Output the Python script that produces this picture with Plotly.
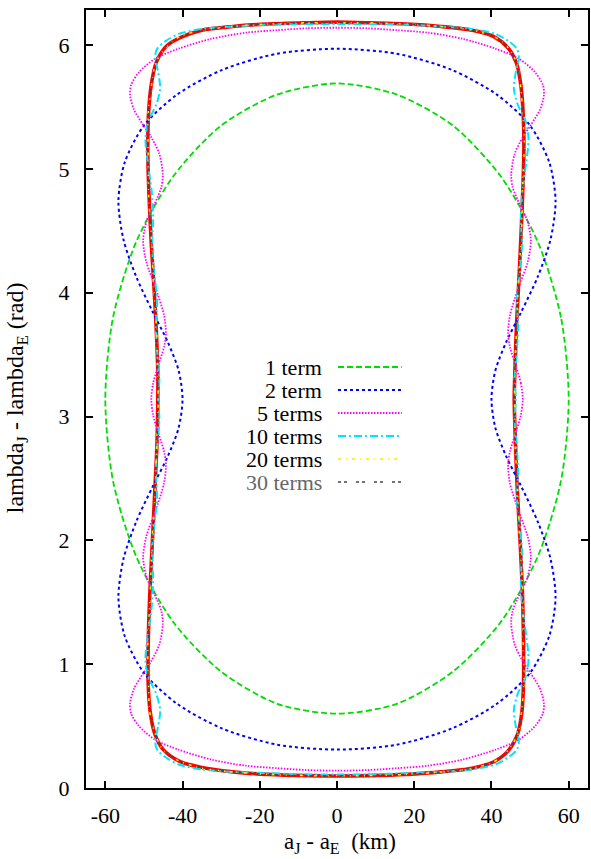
import plotly.graph_objects as go

# ---- data (x: a_J - a_E in km, y: lambda_J - lambda_E in rad) ----
pts_orbit = [(45.9,3.14),(46.1,3.40),(46.5,3.75),(47.1,4.10),(47.7,4.50),(48.2,4.90),(48.4,5.20),(48.2,5.45),(47.6,5.68),(46.4,5.86),(44.2,5.98),(40.5,6.07),(35.0,6.12),(27.0,6.15),(18.0,6.17),(8.0,6.18),(0.0,6.185),(-8.0,6.18),(-18.0,6.17),(-27.0,6.15),(-35.0,6.12),(-40.6,6.06),(-44.2,5.99),(-46.8,5.86),(-48.1,5.68),(-48.8,5.45),(-49.0,5.15),(-48.7,4.80),(-48.1,4.40),(-47.4,4.05),(-46.8,3.70),(-46.4,3.35),(-46.4,3.14),(-46.6,2.80),(-47.1,2.45),(-47.8,2.00),(-48.5,1.55),(-48.9,1.15),(-48.9,0.85),(-48.4,0.62),(-47.2,0.44),(-45.0,0.31),(-41.0,0.22),(-35.0,0.165),(-27.0,0.13),(-18.0,0.11),(-8.0,0.10),(0.0,0.097),(8.0,0.10),(18.0,0.11),(27.0,0.13),(35.0,0.16),(40.5,0.21),(44.3,0.30),(46.8,0.44),(47.9,0.62),(48.3,0.85),(48.3,1.20),(48.0,1.60),(47.4,2.00),(46.7,2.40),(46.2,2.80),(45.9,3.14)]

pts_1term = [(60.0,3.14),(58.0,3.80),(52.0,4.41),(42.4,4.94),(30.0,5.35),(15.5,5.60),(0.0,5.69),(-15.5,5.60),(-30.0,5.35),(-42.4,4.94),(-52.0,4.41),(-58.0,3.80),(-60.0,3.14),(-58.0,2.48),(-52.0,1.87),(-42.4,1.34),(-30.0,0.94),(-15.5,0.68),(0.0,0.60),(15.5,0.68),(30.0,0.94),(42.4,1.34),(52.0,1.87),(58.0,2.48),(60.0,3.14)]

pts_2term = [(40.0,3.14),(41.0,3.37),(43.8,3.60),(47.8,3.85),(52.0,4.13),(55.3,4.43),(56.6,4.74),(55.0,5.05),(50.0,5.35),(41.4,5.60),(29.7,5.80),(15.5,5.93),(0.0,5.97),(-15.5,5.93),(-29.7,5.80),(-41.4,5.60),(-50.0,5.35),(-55.0,5.05),(-56.6,4.74),(-55.3,4.43),(-52.0,4.13),(-47.8,3.85),(-43.8,3.60),(-41.0,3.37),(-40.0,3.14),(-41.0,2.91),(-43.8,2.68),(-47.8,2.43),(-52.0,2.15),(-55.3,1.85),(-56.6,1.54),(-55.0,1.23),(-50.0,0.93),(-41.4,0.68),(-29.7,0.48),(-15.5,0.35),(0.0,0.31),(15.5,0.35),(29.7,0.48),(41.4,0.68),(50.0,0.93),(55.0,1.23),(56.6,1.54),(55.3,1.85),(52.0,2.15),(47.8,2.43),(43.8,2.68),(41.0,2.91),(40.0,3.14)]

pts_5terms = [(48.1,3.14),(47.6,3.27),(46.2,3.42),(44.8,3.56),(44.3,3.67),(44.8,3.82),(47.0,4.04),(49.4,4.25),(50.2,4.42),(49.3,4.58),(47.2,4.72),(45.5,4.85),(45.1,4.95),(46.0,5.12),(48.0,5.25),(50.3,5.36),(52.6,5.48),(53.6,5.60),(53.3,5.68),(51.3,5.78),(47.1,5.89),(41.1,5.97),(32.6,6.05),(23.6,6.10),(15.6,6.12),(8.0,6.135),(0.0,6.14),
              (-8.0,6.135),(-15.6,6.12),(-23.6,6.10),(-32.6,6.05),(-41.1,5.97),(-47.1,5.89),(-51.3,5.78),(-53.3,5.68),(-53.6,5.60),(-52.6,5.48),(-50.3,5.36),(-48.0,5.25),(-46.0,5.12),(-45.1,4.95),(-45.5,4.85),(-47.2,4.72),(-49.3,4.58),(-50.2,4.42),(-49.4,4.25),(-47.0,4.04),(-44.8,3.82),(-44.3,3.67),(-44.8,3.56),(-46.2,3.42),(-47.6,3.27),(-48.1,3.14),
              (-47.6,3.01),(-46.2,2.86),(-44.8,2.72),(-44.3,2.61),(-44.8,2.46),(-47.0,2.24),(-49.4,2.03),(-50.2,1.86),(-49.3,1.70),(-47.2,1.56),(-45.5,1.43),(-45.1,1.33),(-46.0,1.16),(-48.0,1.03),(-50.3,0.92),(-52.6,0.80),(-53.6,0.68),(-53.3,0.60),(-51.3,0.50),(-47.1,0.39),(-41.1,0.31),(-32.6,0.23),(-23.6,0.18),(-15.6,0.16),(-8.0,0.145),(0.0,0.14),
              (8.0,0.145),(15.6,0.16),(23.6,0.18),(32.6,0.23),(41.1,0.31),(47.1,0.39),(51.3,0.50),(53.3,0.60),(53.6,0.68),(52.6,0.80),(50.3,0.92),(48.0,1.03),(46.0,1.16),(45.1,1.33),(45.5,1.43),(47.2,1.56),(49.3,1.70),(50.2,1.86),(49.4,2.03),(47.0,2.24),(44.8,2.46),(44.3,2.61),(44.8,2.72),(46.2,2.86),(47.6,3.01),(48.1,3.14)]

pts_10terms = [(46.3,3.14),(46.0,3.30),(46.5,3.50),(46.9,3.72),(46.6,3.95),(47.3,4.15),(47.9,4.38),(47.6,4.60),(48.0,4.82),(49.0,5.05),(49.6,5.24),(48.9,5.38),(46.8,5.52),(45.8,5.65),(46.3,5.78),(47.1,5.90),(46.6,5.97),(44.5,6.03),(41.0,6.09),(35.0,6.13),(27.0,6.15),(18.0,6.165),(8.0,6.17),(0.0,6.17),
               (-8.0,6.17),(-18.0,6.165),(-27.0,6.15),(-35.0,6.13),(-41.0,6.09),(-44.5,6.03),(-46.6,5.97),(-47.1,5.90),(-46.3,5.78),(-45.8,5.65),(-46.8,5.52),(-48.9,5.38),(-49.6,5.24),(-49.0,5.05),(-48.0,4.82),(-47.6,4.60),(-47.9,4.38),(-47.3,4.15),(-46.6,3.95),(-46.9,3.72),(-46.5,3.50),(-46.0,3.30),(-46.3,3.14),
               (-46.0,2.98),(-46.5,2.78),(-46.9,2.56),(-46.6,2.33),(-47.3,2.13),(-47.9,1.90),(-47.6,1.68),(-48.0,1.46),(-49.0,1.23),(-49.6,1.04),(-48.9,0.90),(-46.8,0.76),(-45.8,0.63),(-46.3,0.50),(-47.1,0.38),(-46.6,0.31),(-44.5,0.25),(-41.0,0.19),(-35.0,0.15),(-27.0,0.13),(-18.0,0.12),(-8.0,0.11),(0.0,0.11),
               (8.0,0.11),(18.0,0.12),(27.0,0.13),(35.0,0.15),(41.0,0.19),(44.5,0.25),(46.6,0.31),(47.1,0.38),(46.3,0.50),(45.8,0.63),(46.8,0.76),(48.9,0.90),(49.6,1.04),(49.0,1.23),(48.0,1.46),(47.6,1.68),(47.9,1.90),(47.3,2.13),(46.6,2.33),(46.9,2.56),(46.5,2.78),(46.0,2.98),(46.3,3.14)]

pts_20terms = [(46.0,3.14),(46.0,3.40),(46.6,3.75),(47.0,4.10),(47.8,4.50),(48.1,4.90),(48.5,5.20),(48.1,5.45),(47.5,5.68),(46.5,5.86),(44.0,5.99),(40.6,6.07),(35.0,6.12),(27.0,6.15),(18.0,6.17),(8.0,6.18),(0.0,6.18),(-8.0,6.18),(-18.0,6.17),(-27.0,6.15),(-35.0,6.12),(-40.6,6.07),(-44.0,5.99),(-46.9,5.86),(-48.0,5.68),(-48.9,5.45),(-48.9,5.15),(-48.8,4.80),(-48.0,4.40),(-47.5,4.05),(-46.7,3.70),(-46.5,3.35),(-46.3,3.14),(-46.7,2.80),(-47.0,2.45),(-47.9,2.00),(-48.4,1.55),(-49.0,1.15),(-48.8,0.85),(-48.5,0.62),(-47.1,0.44),(-45.1,0.31),(-41.0,0.22),(-35.0,0.16),(-27.0,0.13),(-18.0,0.11),(-8.0,0.10),(0.0,0.10),(8.0,0.10),(18.0,0.11),(27.0,0.13),(35.0,0.16),(40.5,0.21),(44.2,0.30),(46.9,0.44),(47.8,0.62),(48.4,0.85),(48.2,1.20),(48.1,1.60),(47.3,2.00),(46.8,2.40),(46.1,2.80),(46.0,3.14)]

pts_30terms = [(45.9,3.14),(46.1,3.40),(46.5,3.75),(47.1,4.10),(47.7,4.50),(48.2,4.90),(48.4,5.20),(48.2,5.45),(47.6,5.68),(46.4,5.86),(44.2,5.98),(40.5,6.07),(35.0,6.12),(27.0,6.15),(18.0,6.17),(8.0,6.18),(0.0,6.18),(-8.0,6.18),(-18.0,6.17),(-27.0,6.15),(-35.0,6.12),(-40.6,6.06),(-44.2,5.99),(-46.8,5.86),(-48.1,5.68),(-48.8,5.45),(-49.0,5.15),(-48.7,4.80),(-48.1,4.40),(-47.4,4.05),(-46.8,3.70),(-46.4,3.35),(-46.4,3.14),(-46.6,2.80),(-47.1,2.45),(-47.8,2.00),(-48.5,1.55),(-48.9,1.15),(-48.9,0.85),(-48.4,0.62),(-47.2,0.44),(-45.0,0.31),(-41.0,0.22),(-35.0,0.165),(-27.0,0.13),(-18.0,0.11),(-8.0,0.10),(0.0,0.10),(8.0,0.10),(18.0,0.11),(27.0,0.13),(35.0,0.16),(40.5,0.21),(44.3,0.30),(46.8,0.44),(47.9,0.62),(48.3,0.85),(48.3,1.20),(48.0,1.60),(47.4,2.00),(46.7,2.40),(46.2,2.80),(45.9,3.14)]

legend_labels = ["1 term", "2 term", "5 terms", "10 terms", "20 terms", "30 terms"]
x_ticks = [-60, -40, -20, 0, 20, 40, 60]
x_tick_text = ["-60", "-40", "-20", "0", "20", "40", "60"]
y_ticks = [0, 1, 2, 3, 4, 5, 6]
y_tick_text = ["0", "1", "2", "3", "4", "5", "6"]

# ---- styles ----
series = [
    (pts_1term,   "#00dd00", "6px,3px",             1.8),
    (pts_2term,   "#0000ff", "3px,3px",             2.0),
    (pts_5terms,  "#ff00ff", "1.5px,1.5px",         1.8),
    (pts_10terms, "#00e5ff", "8px,3px,2px,3px",     2.0),
    (pts_20terms, "#f0f000", "3px,5px,1px,5px",     1.5),
    (pts_30terms, "#444444", "3px,3px,3px,9px",     1.5),
]
label_colors = ["black", "black", "black", "black", "black", "#666666"]

FONT = "Liberation Serif"
fig = go.Figure()

fig.add_trace(go.Scatter(
    x=[p[0] for p in pts_orbit], y=[p[1] for p in pts_orbit], mode="lines",
    line=dict(color="#ff0000", width=3.6, shape="spline", smoothing=0.8),
    showlegend=False, hoverinfo="skip"))

for pts, col, dash, w in series:
    fig.add_trace(go.Scatter(
        x=[p[0] for p in pts], y=[p[1] for p in pts], mode="lines",
        line=dict(color=col, width=w, dash=dash, shape="spline", smoothing=0.8),
        showlegend=False, hoverinfo="skip"))

# ---- custom legend (text left, sample right) ----
PL, PR, PT, PB = 86, 590, 10, 788
def px_x(p):
    return (p - PL) / (PR - PL)
def px_y(p):
    return (PB - p) / (PB - PT)

row_y = [367, 390, 413, 436, 459, 482]
annotations = []
shapes = []
for i, lab in enumerate(legend_labels):
    yy = px_y(row_y[i])
    annotations.append(dict(xref="paper", yref="paper", x=px_x(325), y=yy,
                            text=lab, showarrow=False, xanchor="right", yanchor="middle",
                            font=dict(family=FONT, size=22, color=label_colors[i])))
    _, col, dash, w = series[i]
    shapes.append(dict(type="line", xref="paper", yref="paper",
                       x0=px_x(339), x1=px_x(403), y0=yy, y1=yy,
                       line=dict(color=col, width=w, dash=dash)))

annotations.append(dict(xref="paper", yref="paper", x=px_x(341), y=px_y(843),
                        text="a<sub>J</sub> - a<sub>E</sub>  (km)", showarrow=False,
                        xanchor="center", yanchor="middle",
                        font=dict(family=FONT, size=23, color="black")))
annotations.append(dict(xref="paper", yref="paper", x=px_x(17), y=px_y(398),
                        text="lambda<sub>J</sub> - lambda<sub>E</sub> (rad)", showarrow=False,
                        xanchor="center", yanchor="middle", textangle=-90,
                        font=dict(family=FONT, size=24, color="black")))

axis_common = dict(showline=True, linecolor="black", linewidth=2, mirror="ticks",
                   ticks="inside", ticklen=7, tickwidth=2, tickcolor="black",
                   showgrid=False, zeroline=False,
                   tickfont=dict(family=FONT, size=22, color="black"))

fig.update_layout(
    width=591, height=859,
    margin=dict(l=PL, r=591 - PR, t=PT, b=859 - PB),
    paper_bgcolor="white", plot_bgcolor="white",
    font=dict(family=FONT, size=21, color="black"),
    xaxis=dict(range=[-65, 65], tickvals=x_ticks, ticktext=x_tick_text, ticklabelstandoff=7, **axis_common),
    yaxis=dict(range=[0, 6.2832], tickvals=y_ticks, ticktext=y_tick_text, ticklabelstandoff=10, **axis_common),
    annotations=annotations, shapes=shapes,
    showlegend=False,
)

fig.write_html("out.html", config={"displayModeBar": False, "staticPlot": True},
               post_script="document.body.style.margin='0';document.body.style.padding='0';document.body.style.overflow='hidden';")
